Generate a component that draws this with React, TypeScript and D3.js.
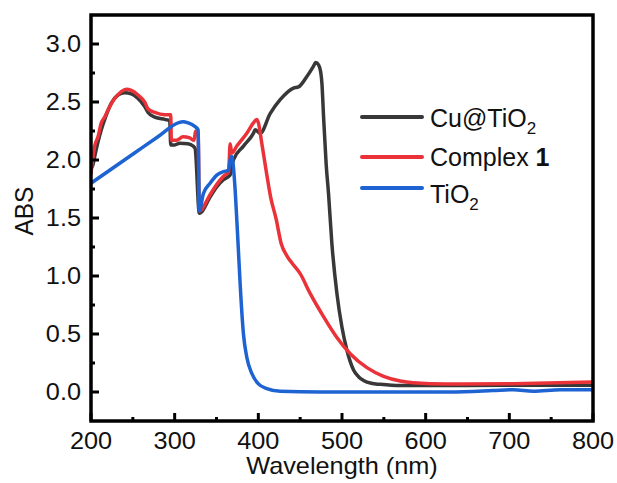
import React from "react";
import * as d3 from "d3";

// Cu@TiO2 (black)
const cuWl = [200, 202.4, 204.4, 212.3, 216.4, 224.3, 232.3, 240.3, 248.2, 256.2, 264.2, 268.2, 276.2, 288.2, 294.1, 295.3, 300.1, 306.1, 316, 322, 324.4, 329.5, 342.3, 350.4, 358.3, 366.3, 370.2, 382.2, 394.1, 396.2, 402.2, 414.1, 426.1, 442, 448, 458, 466, 468.5, 472, 474.5, 476, 478, 481.1, 483.9, 487.9, 493.9, 499.9, 505.9, 513.8, 520, 525.7, 535, 545.7, 569.6, 609, 689, 800];
const cuAbs = [1.93, 1.96, 2.03, 2.26, 2.35, 2.49, 2.56, 2.58, 2.57, 2.53, 2.46, 2.41, 2.37, 2.35, 2.34, 2.13, 2.13, 2.145, 2.14, 2.12, 2.10, 1.54, 1.68, 1.77, 1.83, 1.87, 2.0, 2.12, 2.23, 2.26, 2.23, 2.40, 2.52, 2.62, 2.63, 2.72, 2.81, 2.84, 2.82, 2.76, 2.66, 2.37, 1.96, 1.71, 1.28, 0.85, 0.56, 0.36, 0.19, 0.13, 0.10, 0.075, 0.066, 0.055, 0.055, 0.058, 0.058];

// Complex 1 (red)
const cxWl = [200, 204.4, 208.4, 212.3, 216.4, 220.3, 228.3, 236.2, 242.2, 248.2, 256.2, 264.2, 268.2, 276.2, 288.2, 295.3, 296, 302, 310, 318, 323.2, 325, 328, 329.5, 342.3, 350.4, 358.3, 364.5, 366.3, 368.3, 374.3, 386.2, 394.1, 398.2, 400.1, 404.2, 409.3, 414.7, 421.3, 427.3, 434.5, 440.4, 450, 461.9, 477.9, 493.9, 509.8, 529.8, 549.7, 569.6, 585, 625.5, 704.8, 800];
const cxAbs = [1.89, 2.12, 2.20, 2.32, 2.37, 2.43, 2.53, 2.59, 2.61, 2.60, 2.56, 2.50, 2.44, 2.41, 2.39, 2.39, 2.17, 2.17, 2.20, 2.19, 2.17, 2.25, 2.25, 1.56, 1.70, 1.79, 1.86, 1.90, 2.14, 2.06, 2.12, 2.23, 2.32, 2.35, 2.32, 2.14, 1.91, 1.68, 1.49, 1.28, 1.17, 1.11, 1.02, 0.85, 0.65, 0.47, 0.33, 0.21, 0.135, 0.095, 0.080, 0.068, 0.072, 0.086];

// TiO2 (blue)
const tiWl = [200, 252, 280, 304.1, 310, 316, 324, 328, 329.5, 334.3, 342.3, 350.4, 358.3, 364.2, 366.3, 368.3, 370.2, 372.3, 374.3, 376.2, 378.2, 382.2, 386.2, 392.2, 400.1, 410.2, 426.1, 473.9, 545.7, 629.4, 680, 704.8, 728.7, 761, 800];
const tiAbs = [1.80, 2.06, 2.20, 2.32, 2.33, 2.32, 2.29, 2.26, 1.56, 1.71, 1.80, 1.87, 1.90, 1.91, 2.0, 2.03, 1.94, 1.74, 1.48, 1.22, 0.94, 0.50, 0.30, 0.16, 0.07, 0.03, 0.006, 0.0, 0.0, 0.0, 0.012, 0.02, 0.006, 0.02, 0.02];

const xMajor = [200, 300, 400, 500, 600, 700, 800];
const xMinor = [250, 350, 450, 550, 650, 750];
const yMajor = [0, 0.5, 1.0, 1.5, 2.0, 2.5, 3.0];
const yMinor = [0.25, 0.75, 1.25, 1.75, 2.25, 2.75];

const series = [
  { name: "Cu@TiO", sub: "2", bold: "", wl: cuWl, abs: cuAbs, color: "#383838" },
  { name: "Complex ", sub: "", bold: "1", wl: cxWl, abs: cxAbs, color: "#ea3238" },
  { name: "TiO", sub: "2", bold: "", wl: tiWl, abs: tiAbs, color: "#1d63d2" },
];

const W = 617, H = 483;
const L = 91, R = 593, T = 15, B = 421;
const FONT = "'Liberation Sans', Arial, Helvetica, sans-serif";

export default function App() {
  const x = d3.scaleLinear().domain([200, 800]).range([L, R]);
  const y = d3.scaleLinear().domain([-0.25, 3.25]).range([B, T]);
  const line = d3.line<[number, number]>().x((d) => x(d[0])).y((d) => y(d[1])).curve(d3.curveMonotoneX);

  const legendY = [117, 157, 188];
  const legendTextY = [127, 166, 203];

  return (
    <svg width={W} height={H} style={{ position: "absolute", left: 0, top: 0, background: "#fff" }} fontFamily={FONT}>
      <rect x={0} y={0} width={W} height={H} fill="#fff" />
      <defs>
        <clipPath id="plot">
          <rect x={L} y={T} width={R - L} height={B - T} />
        </clipPath>
      </defs>
      <g clipPath="url(#plot)" fill="none" strokeLinejoin="round" strokeLinecap="round">
        {series.map((s) => (
          <path key={s.name} d={line(s.wl.map((w, i) => [w, s.abs[i]] as [number, number])) || ""} stroke={s.color} strokeWidth={3.5} />
        ))}
      </g>
      {/* frame */}
      <rect x={L} y={T} width={R - L} height={B - T} fill="none" stroke="#000" strokeWidth={3.5} />
      {/* ticks */}
      {xMajor.map((v) => (
        <line key={"xm" + v} x1={x(v)} x2={x(v)} y1={B} y2={B - 8} stroke="#000" strokeWidth={3} />
      ))}
      {xMinor.map((v) => (
        <line key={"xn" + v} x1={x(v)} x2={x(v)} y1={B} y2={B - 4} stroke="#000" strokeWidth={3} />
      ))}
      {yMajor.map((v) => (
        <line key={"ym" + v} x1={L} x2={L + 8} y1={y(v)} y2={y(v)} stroke="#000" strokeWidth={3} />
      ))}
      {yMinor.map((v) => (
        <line key={"yn" + v} x1={L} x2={L + 4} y1={y(v)} y2={y(v)} stroke="#000" strokeWidth={3} />
      ))}
      {/* tick labels */}
      {xMajor.map((v) => (
        <text key={"xl" + v} transform={`translate(${x(v)},449) scale(1.1,1)`} textAnchor="middle" fontSize={23} fill="#111">
          {v}
        </text>
      ))}
      {yMajor.map((v) => (
        <text key={"yl" + v} transform={`translate(81,${y(v) + 8}) scale(1.1,1)`} textAnchor="end" fontSize={23} fill="#111">
          {v.toFixed(1)}
        </text>
      ))}
      {/* axis titles */}
      <text transform={`translate(342,474) scale(1.1,1)`} textAnchor="middle" fontSize={23} fill="#111">
        Wavelength (nm)
      </text>
      <text transform={`translate(33,211) rotate(-90) scale(1.06,1.1)`} textAnchor="middle" fontSize={23} fill="#111">
        ABS
      </text>
      {/* legend */}
      {series.map((s, i) => (
        <g key={"lg" + i}>
          <line x1={362} x2={422} y1={legendY[i]} y2={legendY[i]} stroke={s.color} strokeWidth={4} strokeLinecap="round" />
          <text x={430} y={legendTextY[i]} fontSize={25} fill="#111">
            {s.name}
            {s.sub && (
              <tspan fontSize={17} dy={7}>
                {s.sub}
              </tspan>
            )}
            {s.bold && <tspan fontWeight="bold">{s.bold}</tspan>}
          </text>
        </g>
      ))}
    </svg>
  );
}
